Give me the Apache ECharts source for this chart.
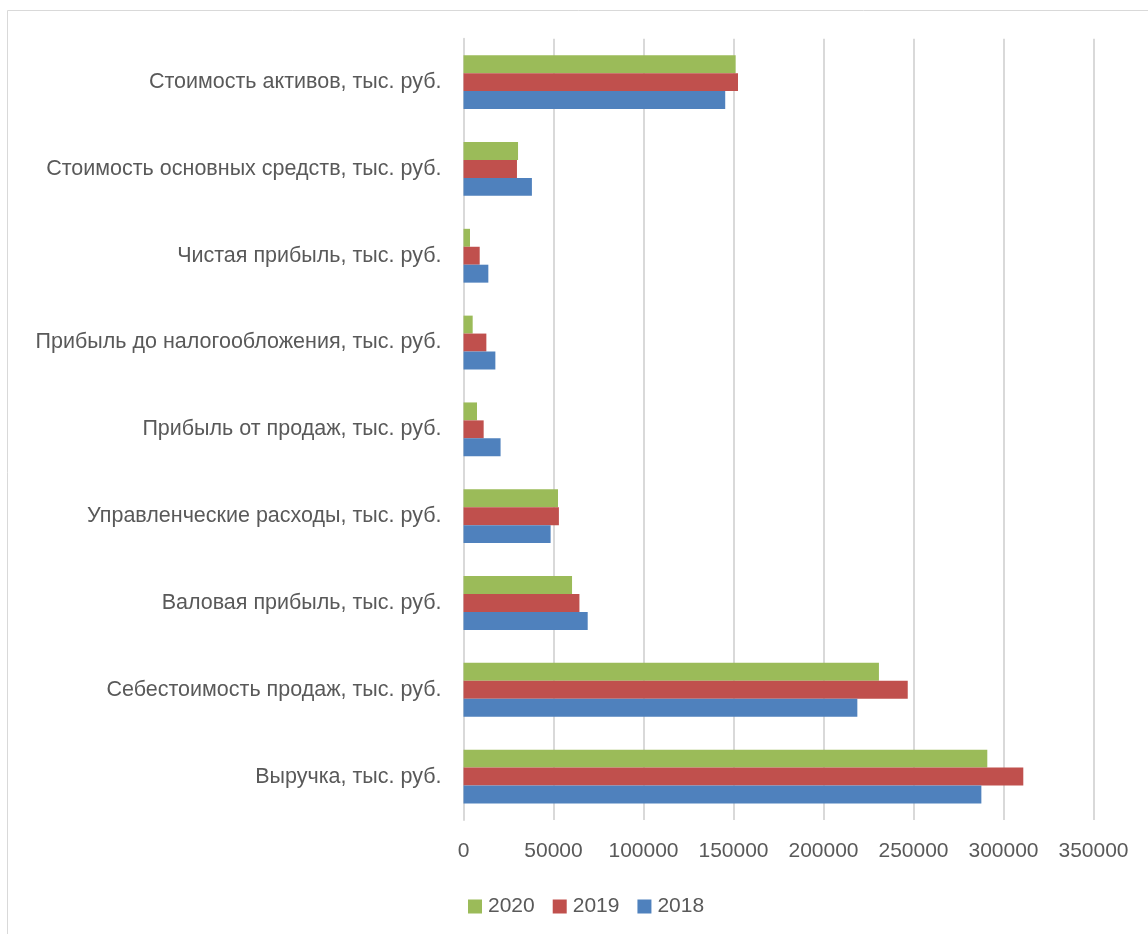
<!DOCTYPE html>
<html>
<head>
<meta charset="utf-8">
<script src="https://cdn.jsdelivr.net/npm/echarts@6/dist/echarts.min.js"></script>
<style>
html,body{margin:0;padding:0;background:#fff;}
#chart{width:1148px;height:934px;}
</style>
</head>
<body>
<div id="chart"></div>
<script>
const categories = [
  'Выручка, тыс. руб.',
  'Себестоимость продаж, тыс. руб.',
  'Валовая прибыль, тыс. руб.',
  'Управленческие расходы, тыс. руб.',
  'Прибыль от продаж, тыс. руб.',
  'Прибыль до налогообложения, тыс. руб.',
  'Чистая прибыль, тыс. руб.',
  'Стоимость основных средств, тыс. руб.',
  'Стоимость активов, тыс. руб.'
];
const values2018 = [287700, 218800, 69000, 48400, 20600, 17700, 13800, 38000, 145400];
const values2019 = [311000, 246800, 64400, 53000, 11200, 12700, 9000, 29700, 152500];
const values2020 = [291000, 230800, 60300, 52500, 7500, 5100, 3600, 30300, 151200];
const xTicks = { min: 0, max: 350000, interval: 50000 };

const chart = echarts.init(document.getElementById('chart'));
const textColor = '#595959';
const font = '"Liberation Sans", Arial, sans-serif';
function bar(name, data, color) {
  return {
    name: name, type: 'bar', data: data,
    barGap: '0%', barCategoryGap: '38%',
    itemStyle: { color: color },
    emphasis: { disabled: true }
  };
}
chart.setOption({
  animation: false,
  textStyle: { fontFamily: font },
  graphic: [{
    type: 'rect', shape: { x: 7.5, y: 10.5, width: 1200, height: 1000 },
    style: { fill: 'none', stroke: '#d9d9d9', lineWidth: 1 }, silent: true
  }],
  grid: { left: 463.5, right: 54.5, top: 38.7, bottom: 114, containLabel: false },
  legend: {
    data: ['2020', '2019', '2018'],
    left: 463, top: 891,
    itemWidth: 14, itemHeight: 14, itemGap: 18,
    icon: 'rect',
    textStyle: { color: textColor, fontSize: 21, fontFamily: font, padding: [0, 0, 0, 1] }
  },
  xAxis: {
    type: 'value', min: xTicks.min, max: xTicks.max, interval: xTicks.interval,
    axisLine: { show: false }, axisTick: { show: false },
    axisLabel: { color: textColor, fontSize: 21, margin: 21, fontFamily: font,
      formatter: function (v) { return String(v); } },
    splitLine: { show: true, lineStyle: { color: '#d9d9d9', width: 2 } }
  },
  yAxis: {
    type: 'category', data: categories,
    axisLine: { show: true, lineStyle: { color: '#d9d9d9', width: 2 } },
    axisTick: { show: false },
    axisLabel: { color: textColor, fontSize: 21.5, margin: 22, fontFamily: font }
  },
  series: [
    bar('2020', values2020, '#9BBB59'),
    bar('2019', values2019, '#C0504D'),
    bar('2018', values2018, '#4F81BD')
  ]
});
</script>
</body>
</html>
